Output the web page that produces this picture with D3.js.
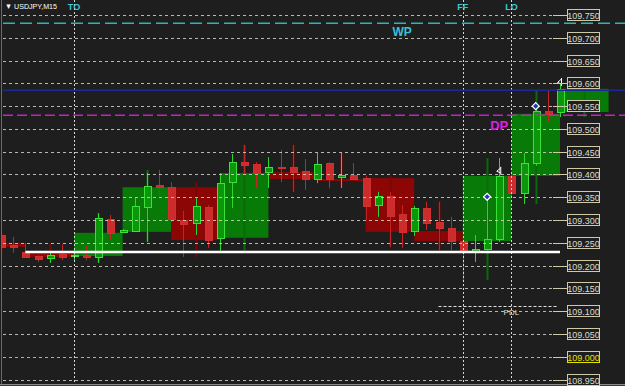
<!DOCTYPE html>
<html>
<head>
<meta charset="utf-8">
<script src="https://cdn.jsdelivr.net/npm/d3@7"></script>
<style>
  body { margin: 0; background: #1e1e1e; overflow: hidden; }
  svg { display: block; font-family: "Liberation Sans", "DejaVu Sans", sans-serif; }
</style>
</head>
<body>
<svg id="chart" width="625" height="386"></svg>
<script>
// USDJPY M15, bar offsets relative to the "TO" bar
const firstBar = -8;
const opens  = [109.250,109.261,109.267,109.245,109.230,109.221,109.217,109.225,109.221,109.223,109.219,109.302,109.274,109.276,109.329,109.377,109.372,109.300,109.293,109.329,109.261,109.383,109.427,109.423,109.405,109.416,109.416,109.408,109.390,109.425,109.394,109.399,109.392,109.333,109.353,109.313,109.276,109.326,109.296,109.282,109.254,109.232,109.236,109.258,109.397,109.359,109.425,109.539,109.537];
const highs  = [109.265,109.274,109.272,109.263,109.250,109.223,109.228,109.247,109.234,109.245,109.315,109.311,109.280,109.348,109.403,109.410,109.383,109.320,109.348,109.333,109.403,109.445,109.465,109.427,109.438,109.454,109.465,109.434,109.447,109.427,109.447,109.425,109.397,109.362,109.362,109.333,109.331,109.340,109.340,109.307,109.256,109.267,109.351,109.436,109.401,109.447,109.550,109.585,109.599];
const lows   = [109.245,109.252,109.236,109.228,109.217,109.208,109.206,109.212,109.208,109.212,109.206,109.258,109.272,109.274,109.252,109.351,109.296,109.219,109.267,109.239,109.228,109.326,109.399,109.370,109.370,109.383,109.362,109.366,109.381,109.370,109.370,109.388,109.300,109.307,109.241,109.239,109.265,109.278,109.234,109.234,109.168,109.208,109.234,109.252,109.348,109.335,109.419,109.515,109.526];
const closes = [109.261,109.265,109.241,109.241,109.219,109.214,109.223,109.219,109.223,109.219,109.304,109.272,109.278,109.331,109.375,109.372,109.302,109.291,109.331,109.256,109.381,109.427,109.421,109.403,109.416,109.414,109.405,109.390,109.423,109.390,109.399,109.390,109.331,109.353,109.309,109.274,109.326,109.293,109.282,109.254,109.234,109.236,109.258,109.397,109.359,109.425,109.539,109.533,109.588];

const tickLabels = ["109.750","109.700","109.650","109.600","109.550","109.500","109.450","109.400","109.350","109.300","109.250","109.200","109.150","109.100","109.050","109.000","108.950"];

const sessionNames = ["TO", "FF", "LO"];
const sessionBars  = [0, 32, 36];

const levelWP = 109.732, levelBlue = 109.585, levelDP = 109.530;
const levelWhite = 109.230, levelPDL = 109.111;
const diamondBars = [34, 38], diamondPrices = [109.351, 109.550];
const flagBars = [35, 40], flagPrices = [109.408, 109.603];

const W = 625, H = 386;
const svg = d3.select("#chart");
const x = d3.scaleLinear().domain([0, 40]).range([74, 560]);
const y = d3.scaleLinear().domain([108.95, 109.75]).range([379.5, 15]);
const step = x(1) - x(0);
const px = v => Math.round(v) + 0.5;

const bars = opens.map((o, i) => ({k: firstBar + i, o: o, h: highs[i], l: lows[i], c: closes[i]}));

// hourly candles built from 4 M15 bars
const hours = d3.groups(bars, d => Math.floor(d.k / 4)).map(([h, g]) => ({
  k0: h * 4, o: g[0].o, c: g[g.length - 1].c,
  h: d3.max(g, d => d.h), l: d3.min(g, d => d.l)
}));

svg.append("rect").attr("width", W).attr("height", H).attr("fill", "#1e1e1e");
svg.append("defs").append("clipPath").attr("id", "clip")
  .append("rect").attr("x", 2).attr("y", 0).attr("width", W - 2).attr("height", 384);

const plot = svg.append("g").attr("clip-path", "url(#clip)");

// hourly boxes
plot.append("g").selectAll("rect").data(hours).join("rect")
  .attr("x", d => x(d.k0)).attr("width", 4 * step)
  .attr("y", d => y(Math.max(d.o, d.c)))
  .attr("height", d => Math.max(2, Math.abs(y(d.o) - y(d.c))))
  .attr("fill", d => d.c > d.o ? "#087a08" : "#8c0606");
plot.append("g").selectAll("line").data(hours).join("line")
  .attr("x1", d => px(x(d.k0 + 2))).attr("x2", d => px(x(d.k0 + 2)))
  .attr("y1", d => y(d.h)).attr("y2", d => y(d.l))
  .attr("stroke", d => d.c > d.o ? "#0a6a0a" : "#7a0606").attr("stroke-width", 2);

// horizontal grid
const grid = svg.append("g");
tickLabels.forEach(t => {
  const yy = px(y(+t));
  const col = t === "109.000" ? "#e4e000" : "#d4d4c4";
  grid.append("line").attr("x1", 3).attr("x2", 553).attr("y1", yy).attr("y2", yy)
    .attr("stroke", col).attr("stroke-dasharray", "3,3").attr("opacity", 0.85);
});

// session vertical lines
sessionBars.forEach(b => {
  svg.append("line").attr("x1", px(x(b))).attr("x2", px(x(b))).attr("y1", 0).attr("y2", 386)
    .attr("stroke", "#d8d8d8").attr("stroke-dasharray", "2,2");
});

// M15 candles
const cg = plot.append("g");
cg.selectAll("line").data(bars).join("line")
  .attr("x1", d => px(x(d.k))).attr("x2", d => px(x(d.k)))
  .attr("y1", d => y(d.h)).attr("y2", d => y(d.l))
  .attr("stroke", d => d.c > d.o ? "#2ed62e" : "#c42424");
cg.selectAll("rect").data(bars).join("rect")
  .attr("x", d => Math.round(x(d.k)) - 3 + 0.5).attr("width", 7)
  .attr("y", d => Math.round(y(Math.max(d.o, d.c))) + 0.5)
  .attr("height", d => Math.max(1, Math.round(Math.abs(y(d.o) - y(d.c)))))
  .attr("fill", d => d.c > d.o ? "#0c960c" : "#cc2c2c")
  .attr("stroke", d => d.c > d.o ? "#3be03b" : "#d23030");

// level lines
svg.append("line").attr("x1", 3).attr("x2", W).attr("y1", y(levelWP)).attr("y2", y(levelWP))
  .attr("stroke", "#2fb4b4").attr("stroke-width", 1.5).attr("stroke-dasharray", "12,5");
svg.append("line").attr("x1", 3).attr("x2", W).attr("y1", y(levelBlue)).attr("y2", y(levelBlue))
  .attr("stroke", "#1c2894").attr("stroke-width", 1.5);
svg.append("line").attr("x1", 3).attr("x2", W).attr("y1", y(levelDP)).attr("y2", y(levelDP))
  .attr("stroke", "#c81ec8").attr("stroke-width", 1.5).attr("stroke-dasharray", "10,4");
svg.append("line").attr("x1", x(-4)).attr("x2", x(40)).attr("y1", y(levelWhite)).attr("y2", y(levelWhite))
  .attr("stroke", "#ffffff").attr("stroke-width", 2.5);
svg.append("line").attr("x1", x(30)).attr("x2", x(40) - 2).attr("y1", px(y(levelPDL))).attr("y2", px(y(levelPDL)))
  .attr("stroke", "#e0e0e0").attr("stroke-dasharray", "3,2");
svg.append("text").attr("x", x(36)).attr("y", y(levelPDL) + 9).attr("text-anchor", "middle")
  .attr("font-size", 8).attr("fill", "#dddddd").text("PDL");

// level names
svg.append("text").attr("x", x(27)).attr("y", y(levelWP) + 13).attr("text-anchor", "middle")
  .attr("font-size", 12).attr("font-weight", "bold").attr("fill", "#36c2da").text("WP");
svg.append("text").attr("x", x(35)).attr("y", y(levelDP) + 15).attr("text-anchor", "middle")
  .attr("font-size", 13).attr("font-weight", "bold").attr("fill", "#e020e0").text("DP");

// markers
diamondBars.forEach((b, i) => {
  svg.append("path").attr("d", "M0,-3.5L3.5,0L0,3.5L-3.5,0Z")
    .attr("transform", `translate(${x(b)},${y(diamondPrices[i])})`)
    .attr("fill", "#2034c8").attr("stroke", "#ffffff").attr("stroke-width", 1.2);
});
flagBars.forEach((b, i) => {
  svg.append("path").attr("d", "M1.5,-4V4M1.5,-3L-2.5,0.5L1.5,2")
    .attr("transform", `translate(${x(b)},${y(flagPrices[i])})`)
    .attr("fill", "none").attr("stroke", "#ffffff").attr("stroke-width", 1);
});

// frame
svg.append("line").attr("x1", 1.5).attr("x2", 1.5).attr("y1", 0).attr("y2", 384).attr("stroke", "#6a6a6a");
svg.append("rect").attr("x", 0).attr("y", 384).attr("width", W).attr("height", 2).attr("fill", "#3a3a3a");
svg.append("line").attr("x1", 0).attr("x2", W).attr("y1", 384.5).attr("y2", 384.5).attr("stroke", "#8a8a8a");

// price axis labels
const ax = svg.append("g");
tickLabels.forEach(t => {
  const yy = px(y(+t));
  const col = t === "109.000" ? "#e4e000" : "#cfc9a8";
  ax.append("line").attr("x1", 553).attr("x2", 567).attr("y1", yy).attr("y2", yy).attr("stroke", col);
  ax.append("rect").attr("x", 567.5).attr("y", yy - 6).attr("width", 32).attr("height", 11)
    .attr("fill", "#1e1e1e").attr("stroke", col);
  ax.append("text").attr("x", 583.5).attr("y", yy + 3.5).attr("text-anchor", "middle")
    .attr("font-size", 9).attr("fill", t === "109.000" ? "#e4e000" : "#dcdccc").text(t);
});

// session names
sessionBars.forEach((b, i) => {
  svg.append("text").attr("x", x(b)).attr("y", 10).attr("text-anchor", "middle")
    .attr("font-size", 9).attr("font-weight", "bold").attr("fill", "#3cc8dc").text(sessionNames[i]);
});

// title
svg.append("text").attr("x", 5).attr("y", 9).attr("font-size", 8).attr("fill", "#ffffff")
  .attr("textLength", 52).attr("lengthAdjust", "spacingAndGlyphs").text("\u25BC USDJPY,M15");
</script>
</body>
</html>
